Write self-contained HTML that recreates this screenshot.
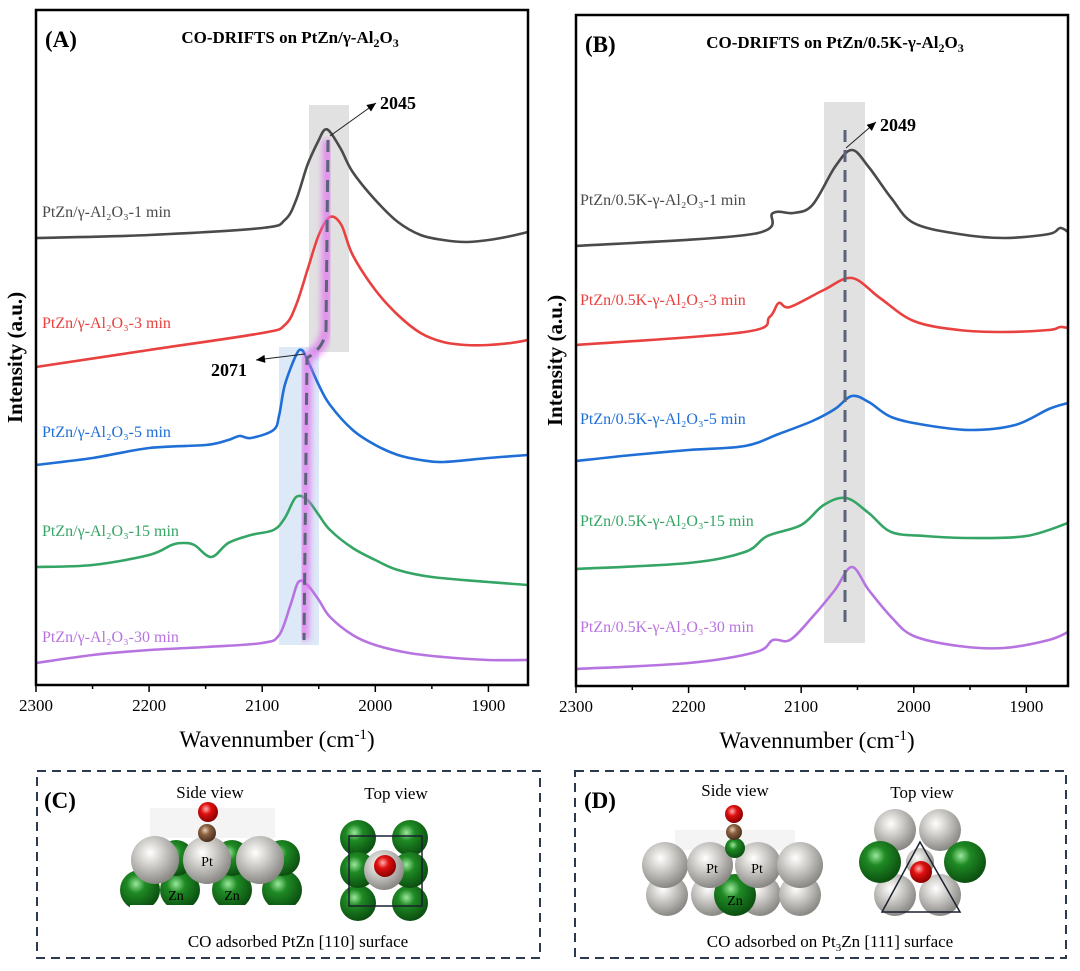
<!DOCTYPE html>
<html><head><meta charset="utf-8">
<style>
html,body{margin:0;padding:0;background:#fff;}
svg{display:block;font-family:"Liberation Serif",serif;}
</style></head>
<body>
<svg id="fig" width="1080" height="971" viewBox="0 0 1080 971" xmlns="http://www.w3.org/2000/svg">
<defs>
<radialGradient id="gGray" cx="40%" cy="35%" r="65%"><stop offset="0" stop-color="#ffffff"/><stop offset="0.35" stop-color="#d8d6d2"/><stop offset="1" stop-color="#8a8884"/></radialGradient>
<radialGradient id="gGreen" cx="40%" cy="35%" r="65%"><stop offset="0" stop-color="#9be89b"/><stop offset="0.35" stop-color="#1f8a24"/><stop offset="1" stop-color="#0b4f10"/></radialGradient>
<radialGradient id="gRed" cx="40%" cy="35%" r="65%"><stop offset="0" stop-color="#ffb0b0"/><stop offset="0.4" stop-color="#e01010"/><stop offset="1" stop-color="#8a0000"/></radialGradient>
<radialGradient id="gBrown" cx="40%" cy="35%" r="65%"><stop offset="0" stop-color="#e8cfb8"/><stop offset="0.4" stop-color="#8a6040"/><stop offset="1" stop-color="#4a3020"/></radialGradient>
<filter id="blur3"><feGaussianBlur stdDeviation="3"/></filter>
</defs>
<g id="panelA"></g>
<g id="panelB"></g>
<g id="panelC"></g>
<g id="panelD"></g>
</svg>
<script>
// ---- Panel A data (wavenumber, intensity a.u.) ----
const aWn1 = [2300,2200,2100,2080,2070,2060,2050,2045,2040,2030,2020,2000,1980,1960,1940,1920,1900,1880,1865];
const aI1  = [462,465,472,480,500,535,560,570,568,550,528,500,478,465,460,458,460,464,468];
const aWn3 = [2300,2200,2100,2080,2070,2060,2050,2040,2030,2020,2000,1980,1960,1940,1920,1900,1880,1865];
const aI3  = [333,350,367,375,395,430,465,483,475,445,410,385,367,358,355,355,357,360];
const aWn5 = [2300,2250,2200,2150,2130,2120,2110,2090,2085,2080,2070,2065,2060,2050,2040,2020,2000,1980,1960,1940,1900,1865];
const aI5  = [235,242,252,255,260,264,262,270,285,315,345,350,340,315,295,270,255,245,240,238,242,245];
const aWn15 = [2300,2250,2200,2180,2170,2160,2145,2130,2110,2090,2080,2070,2060,2050,2040,2020,2000,1980,1950,1900,1865];
const aI15  = [133,135,145,155,157,155,143,157,165,170,182,203,200,185,170,152,140,130,123,118,115];
const aWn30 = [2300,2250,2200,2150,2100,2085,2075,2068,2060,2050,2040,2020,2000,1970,1940,1900,1865];
const aI30  = [37,45,50,53,57,65,95,118,115,100,83,65,55,47,43,40,40];
const aLabels = ["PtZn/γ-Al₂O₃-1 min","PtZn/γ-Al₂O₃-3 min","PtZn/γ-Al₂O₃-5 min","PtZn/γ-Al₂O₃-15 min","PtZn/γ-Al₂O₃-30 min"];
// ---- Panel B data ----
const bWn1 = [2300,2143,2125,2107,2090,2070,2055,2040,2020,2000,1960,1920,1880,1870,1863];
const bI1  = [454,466,487,487,495,533,550,533,502,477,466,462,466,472,468];
const bWn3 = [2300,2150,2128,2120,2110,2080,2055,2030,2000,1960,1920,1880,1870,1863];
const bI3  = [355,368,383,397,393,410,422,402,379,370,368,370,373,372];
const bWn5 = [2300,2250,2200,2150,2120,2090,2070,2055,2040,2020,1990,1950,1910,1880,1863];
const bI5  = [239,245,250,254,266,279,291,304,298,283,275,270,275,291,297];
const bWn15 = [2300,2200,2150,2130,2100,2080,2060,2040,2020,1990,1950,1900,1863];
const bI15  = [131,137,148,164,175,195,202,187,168,164,162,164,177];
const bWn30 = [2300,2200,2140,2125,2110,2090,2070,2055,2040,2020,2000,1960,1920,1880,1863];
const bI30  = [31,37,48,60,60,83,110,133,110,83,64,54,52,60,68];
const bLabels = ["PtZn/0.5K-γ-Al₂O₃-1 min","PtZn/0.5K-γ-Al₂O₃-3 min","PtZn/0.5K-γ-Al₂O₃-5 min","PtZn/0.5K-γ-Al₂O₃-15 min","PtZn/0.5K-γ-Al₂O₃-30 min"];
const xTicks = [2300,2200,2100,2000,1900];
const colors = ["#4a4a4a","#e8413f","#1f6fd6","#35a565","#b774e0"];

const NS = "http://www.w3.org/2000/svg";
function el(tag, attrs, parent, text){
  const e = document.createElementNS(NS, tag);
  for (const k in attrs) e.setAttribute(k, attrs[k]);
  if (text !== undefined) e.textContent = text;
  parent.appendChild(e);
  return e;
}
function makeAxes(x0,x1,y0,y1,wnL,wnR){
  const sx = w => x0 + (wnL - w) / (wnL - wnR) * (x1 - x0);
  const sy = v => 700 - v;
  return {sx, sy};
}
function smoothPath(p){
  let d = 'M' + p[0][0].toFixed(1) + ',' + p[0][1].toFixed(1);
  for (let i = 0; i < p.length - 1; i++){
    const p0 = p[i-1] || p[i], p1 = p[i], p2 = p[i+1], p3 = p[i+2] || p2;
    const c1x = p1[0] + (p2[0]-p0[0])/6, c1y = p1[1] + (p2[1]-p0[1])/6;
    const c2x = p2[0] - (p3[0]-p1[0])/6, c2y = p2[1] - (p3[1]-p1[1])/6;
    d += ' C' + [c1x,c1y,c2x,c2y,p2[0],p2[1]].map(v=>v.toFixed(1)).join(',');
  }
  return d;
}
function drawPanel(g, P){
  const {sx, sy} = makeAxes(P.x0,P.x1,P.y0,P.y1,2300,P.wnR);
  for (const r of P.rects){
    const rr = el('rect',{x:r[0],y:r[1],width:r[2],height:r[3],fill:r[4],opacity:r[5]},g);
    
    
  }
  P.series.forEach((s, i) => {
    const pts = s.wn.map((w, j) => [sx(w), sy(s.v[j])]);
    const line = el('path',{d:smoothPath(pts),fill:'none',stroke:colors[i],'stroke-width':2.6,'stroke-linejoin':'round'},g);
    
    
    const t = el('text',{x:P.labX,y:P.labY[i],fill:colors[i],'font-size':16},g,P.labels[i]);
    
    
  });
  P.extra(g);
  const fr = el('rect',{x:P.x0,y:P.y0,width:P.x1-P.x0,height:P.y1-P.y0,fill:'none',stroke:'#000','stroke-width':2.5},g);
  
  
  for (let w = 2300; w >= P.wnR; w -= 50){
    const major = (w % 100 === 0);
    const tk = el('line',{x1:sx(w),x2:sx(w),y1:P.y1,y2:P.y1+(major?7:4),stroke:'#000','stroke-width':1.5},g);
    
    
  }
  xTicks.forEach(w => {
    const tl = el('text',{x:sx(w),y:P.y1+26,'text-anchor':'middle','font-size':17},g,String(w));
    
    
  });
  const xt = el('text',{x:(P.x0+P.x1)/2 - 5,y:P.y1+62,'text-anchor':'middle','font-size':23},g);
  
  
  xt.innerHTML = 'Wavennumber (cm<tspan dy="-8" font-size="15">-1</tspan><tspan dy="8">)</tspan>';
  const yt = el('text',{x:0,y:0,'text-anchor':'middle','font-size':21,'font-weight':'bold',transform:'translate('+(P.x0-14)+','+((P.y0+P.y1)/2+10)+') rotate(-90)'},g,'Intensity (a.u.)');
  
  
  const pl = el('text',{x:P.x0+9,y:P.y0+37,'font-size':23,'font-weight':'bold'},g,P.letter);
  
  
  const ti = el('text',{x:P.titleX,y:P.y0+33,'text-anchor':'middle','font-size':17,'font-weight':'bold'},g);
  
  
  ti.innerHTML = P.title;
}
function arrow(g, x1,y1,x2,y2){
  el('line',{x1,y1,x2,y2,stroke:'#222','stroke-width':1},g);
  const a = Math.atan2(y2-y1,x2-x1), L=9, W=4;
  const p = [[x2,y2],[x2-L*Math.cos(a)+W*Math.sin(a), y2-L*Math.sin(a)-W*Math.cos(a)],[x2-L*Math.cos(a)-W*Math.sin(a), y2-L*Math.sin(a)+W*Math.cos(a)]];
  el('polygon',{points:p.map(q=>q.join(',')).join(' '),fill:'#000'},g);
}

drawPanel(document.getElementById('panelA'),{
  id:'a', x0:36,x1:528,y0:10,y1:685,wnR:1865,
  series:[{wn:aWn1,v:aI1},{wn:aWn3,v:aI3},{wn:aWn5,v:aI5},{wn:aWn15,v:aI15},{wn:aWn30,v:aI30}],
  labels:aLabels, labX:42, labY:[217,328,437,536,642],
  rects:[[309,105,40,247,'#c8c8c8',0.55],[279,347,40,298,'#bcd4f0',0.5]],
  letter:'(A)', titleX:290,
  title:'CO-DRIFTS on PtZn/γ-Al<tspan dy="4" font-size="12">2</tspan><tspan dy="-4">O</tspan><tspan dy="4" font-size="12">3</tspan>',
  extra:(g)=>{
    const d = 'M328,140 L326,330 Q324,348 307,358 L304,640';
    el('path',{d,fill:'none',stroke:'#e070ee','stroke-width':11,opacity:0.7,filter:'url(#blur3)'},g);
    const dl = el('path',{d,fill:'none',stroke:'#5a6478','stroke-width':3,'stroke-dasharray':'12,8'},g);
    
    
    arrow(g,330,136,376,103);
    const t1 = el('text',{x:380,y:109,'font-size':18,'font-weight':'bold'},g,'2045');
    
    
    arrow(g,305,354,256,360);
    const t2 = el('text',{x:211,y:376,'font-size':18,'font-weight':'bold'},g,'2071');
    
    
  }
});
drawPanel(document.getElementById('panelB'),{
  id:'b', x0:576,x1:1068,y0:15,y1:686,wnR:1863,
  series:[{wn:bWn1,v:bI1},{wn:bWn3,v:bI3},{wn:bWn5,v:bI5},{wn:bWn15,v:bI15},{wn:bWn30,v:bI30}],
  labels:bLabels, labX:580, labY:[205,305,424,526,632],
  rects:[[824,102,41,541,'#c8c8c8',0.55]],
  letter:'(B)', titleX:835,
  title:'CO-DRIFTS on PtZn/0.5K-γ-Al<tspan dy="4" font-size="12">2</tspan><tspan dy="-4">O</tspan><tspan dy="4" font-size="12">3</tspan>',
  extra:(g)=>{
    const d = 'M845,130 L845,630';
    el('path',{d,fill:'none',stroke:'#8fb0e0','stroke-width':11,opacity:0.7,filter:'url(#blur3)'},g);
    const dl = el('path',{d,fill:'none',stroke:'#5a6478','stroke-width':3,'stroke-dasharray':'12,8'},g);
    
    
    arrow(g,846,148,876,122);
    const t1 = el('text',{x:880,y:131,'font-size':18,'font-weight':'bold'},g,'2049');
    
    
  }
});

function atom(g,cx,cy,r,kind){ el('circle',{cx,cy,r,fill:'url(#g'+kind+')'},g); }
// Panel C
(function(){
  const g = document.getElementById('panelC');
  const b = el('rect',{x:37,y:771,width:503,height:187,fill:'none',stroke:'#2c3a50','stroke-width':2,'stroke-dasharray':'9,6'},g);
   
  el('text',{x:44,y:808,'font-size':23,'font-weight':'bold'},g,'(C)');
  el('text',{x:210,y:798,'text-anchor':'middle','font-size':17},g,'Side view');
  el('text',{x:396,y:799,'text-anchor':'middle','font-size':17},g,'Top view');
  el('rect',{x:150,y:808,width:125,height:30,fill:'#f4f4f4'},g);
  [[180,890],[232,890],[282,890],[140,890]].forEach(p=>atom(g,p[0],p[1],20,'Green'));
  [[176,858],[232,858],[282,858]].forEach(p=>atom(g,p[0],p[1],18,'Green'));
  [[155,860],[207,860],[260,860]].forEach(p=>atom(g,p[0],p[1],24,'Gray'));
  el('rect',{x:130,y:905,width:165,height:10,fill:'#fff'},g);
  atom(g,207,833,9,'Brown'); atom(g,208,812,10,'Red');
  el('text',{x:207,y:866,'text-anchor':'middle','font-size':14},g,'Pt');
  el('text',{x:176,y:900,'text-anchor':'middle','font-size':14},g,'Zn');
  el('text',{x:232,y:900,'text-anchor':'middle','font-size':14},g,'Zn');
  [[358,838],[410,838],[358,903],[410,903],[358,870],[410,870]].forEach(p=>atom(g,p[0],p[1],18,'Green'));
  atom(g,384,870,20,'Gray'); atom(g,385,866,11,'Red');
  el('rect',{x:349,y:836,width:73,height:70,fill:'none',stroke:'#1a2030','stroke-width':1.5},g);
  const c = el('text',{x:298,y:947,'text-anchor':'middle','font-size':17},g,'CO adsorbed  PtZn [110] surface');
   
})();
// Panel D
(function(){
  const g = document.getElementById('panelD');
  const b = el('rect',{x:575,y:771,width:491,height:187,fill:'none',stroke:'#2c3a50','stroke-width':2,'stroke-dasharray':'9,6'},g);
   
  el('text',{x:584,y:808,'font-size':23,'font-weight':'bold'},g,'(D)');
  el('text',{x:735,y:796,'text-anchor':'middle','font-size':17},g,'Side view');
  el('text',{x:922,y:798,'text-anchor':'middle','font-size':17},g,'Top view');
  el('rect',{x:675,y:830,width:120,height:20,fill:'#f4f4f4'},g);
  [[667,895],[712,895],[760,895],[800,895]].forEach(p=>atom(g,p[0],p[1],21,'Gray'));
  atom(g,735,895,21,'Green');
  [[665,865],[710,865],[758,865],[800,865]].forEach(p=>atom(g,p[0],p[1],23,'Gray'));
  atom(g,735,848,10,'Green');
  atom(g,734,832,8,'Brown'); atom(g,734,814,9,'Red');
  el('text',{x:712,y:873,'text-anchor':'middle','font-size':14},g,'Pt');
  el('text',{x:757,y:873,'text-anchor':'middle','font-size':14},g,'Pt');
  el('text',{x:735,y:905,'text-anchor':'middle','font-size':14},g,'Zn');
  [[895,830],[940,830],[895,895],[940,895]].forEach(p=>atom(g,p[0],p[1],21,'Gray'));
  [[880,862],[965,862]].forEach(p=>atom(g,p[0],p[1],21,'Green'));
  atom(g,920,862,14,'Gray'); atom(g,921,872,11,'Red');
  el('polygon',{points:'920,842 882,912 960,912',fill:'none',stroke:'#1a2030','stroke-width':1.5},g);
  const c = el('text',{x:830,y:947,'text-anchor':'middle','font-size':17},g);
   
  c.innerHTML = 'CO adsorbed  on Pt<tspan dy="4" font-size="11">3</tspan><tspan dy="-4">Zn [111] surface</tspan>';
})();
</script>
</body></html>
